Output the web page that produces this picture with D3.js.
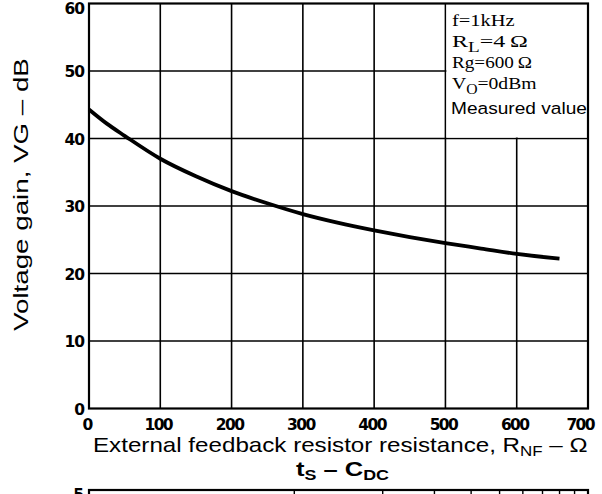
<!DOCTYPE html>
<html>
<head>
<meta charset="utf-8">
<script src="https://cdn.jsdelivr.net/npm/d3@7"></script>
<style>
  body { margin: 0; background: #fff; }
  text { fill: #000; }
</style>
</head>
<body>
<svg id="vis" width="602" height="494"></svg>
<script>
// values
const rnf = [0, 25, 50, 100, 150, 200, 250, 300, 350, 400, 450, 500, 550, 600, 660]
const gain = [44.3, 42.2, 40.4, 37.0, 34.4, 32.2, 30.4, 28.8, 27.5, 26.4, 25.4, 24.5, 23.7, 22.9, 22.2]

const xTicks = [0, 100, 200, 300, 400, 500, 600, 700]
const yTicks = [0, 10, 20, 30, 40, 50, 60]
const conditions = [
  {main: 'f', sub: '', rest: '=1kHz'},
  {main: 'R', sub: 'L', rest: '=4\u2009\u03A9'},
  {main: 'Rg', sub: '', rest: '=600\u2009\u03A9'},
  {main: 'V', sub: 'O', rest: '=0dBm'}
]
// next chart (t_S - C_DC), only its top edge shows
const cdcGrid = [1, 2, 3, 4, 5, 6, 7, 8, 9]
const cdcYTop = 5

const svg = d3.select('#vis')

const x = d3.scaleLinear([0, 700], [89, 588])
const y = d3.scaleLinear([0, 60], [408.5, 3.5])

const tickFont = "'DejaVu Sans', 'Liberation Sans', sans-serif"

// stretch a text element horizontally so it spans x0..x1
function fit(sel, x0, x1) {
  let node = sel.node()
  let b = node.getBBox()
  let sx = (x1 - x0) / b.width
  sel.attr('transform', `translate(${x0},0) scale(${sx},1) translate(${-b.x},0)`)
}

// grid
let grid = svg.append('g').attr('stroke', '#000').attr('stroke-width', 1.6)
grid.selectAll('.vgrid')
  .data(xTicks.slice(1, -1)).enter()
  .append('line')
    .attr('x1', d => x(d)).attr('x2', d => x(d))
    .attr('y1', y(60)).attr('y2', y(0))
grid.selectAll('.hgrid')
  .data(yTicks.slice(1, -1)).enter()
  .append('line')
    .attr('x1', x(0)).attr('x2', x(700))
    .attr('y1', d => y(d)).attr('y2', d => y(d))

// conditions box covers the grid in the upper right
svg.append('rect')
  .attr('x', x(500) + 1).attr('y', y(60))
  .attr('width', x(700) - x(500) - 1).attr('height', y(40) - y(60) - 1)
  .attr('fill', '#fff')
// stubs of the 600 line left visible
grid.append('line')
  .attr('x1', x(600)).attr('x2', x(600))
  .attr('y1', y(60)).attr('y2', y(60) + 6)
grid.append('line')
  .attr('x1', x(600)).attr('x2', x(600))
  .attr('y1', y(40) - 20).attr('y2', y(40))
grid.append('line')
  .attr('x1', x(700) - 4).attr('x2', x(700))
  .attr('y1', y(50)).attr('y2', y(50))

// frame
svg.append('rect')
  .attr('x', x(0)).attr('y', y(60))
  .attr('width', x(700) - x(0)).attr('height', y(0) - y(60))
  .attr('fill', 'none').attr('stroke', '#000').attr('stroke-width', 2.2)

// curve
let line = d3.line()
  .x((d, i) => x(rnf[i]))
  .y(d => y(d))
  .curve(d3.curveMonotoneX)

svg.append('path')
  .datum(gain)
  .attr('d', line)
  .attr('fill', 'none')
  .attr('stroke', '#000')
  .attr('stroke-width', 3.8)
  .attr('stroke-linecap', 'butt')

// tick labels
svg.selectAll('.xlab')
  .data(xTicks).enter()
  .append('text')
    .attr('x', d => d === 700 ? x(d) + 6 : x(d) - 2)
    .attr('y', 430)
    .attr('text-anchor', d => d === 700 ? 'end' : 'middle')
    .attr('font-family', tickFont)
    .attr('font-weight', 'bold')
    .attr('font-size', 15.5)
    .attr('letter-spacing', -1.6)
    .text(d => d)

svg.selectAll('.ylab')
  .data(yTicks).enter()
  .append('text')
    .attr('x', 84)
    .attr('y', d => y(d) + (d === 60 ? 10 : 6))
    .attr('text-anchor', 'end')
    .attr('font-family', tickFont)
    .attr('font-weight', 'bold')
    .attr('font-size', 15.5)
    .attr('letter-spacing', -1)
    .text(d => d)

// conditions text
let cond = svg.append('g')
  .attr('font-family', "'Liberation Serif', 'Times New Roman', serif")
  .attr('font-size', 17.5)
let baselines = [26, 47, 68, 89]
let ends = [515, 528, 532, 537]
conditions.forEach((c, i) => {
  let t = cond.append('text').attr('y', baselines[i])
  t.append('tspan').text(c.main)
  if (c.sub) {
    t.append('tspan').attr('font-size', 14).attr('dy', 5).text(c.sub)
    t.append('tspan').attr('dy', -5).text(c.rest)
  } else {
    t.append('tspan').text(c.rest)
  }
  fit(t, 452, ends[i])
})

let measured = svg.append('text')
  .attr('y', 114)
  .attr('font-family', "'Liberation Sans', Arial, sans-serif")
  .attr('font-size', 17)
  .text('Measured value')
fit(measured, 451, 587)

// axis titles
let xTitle = svg.append('text')
  .attr('y', 452)
  .attr('font-family', "'Liberation Sans', Arial, sans-serif")
  .attr('font-size', 20)
xTitle.append('tspan').text('External feedback resistor resistance, R')
xTitle.append('tspan').attr('font-size', 14).attr('dy', 4).text('NF')
xTitle.append('tspan').attr('dy', -4).text(' \u2013 \u03A9')
fit(xTitle, 93, 588)

let yTitleG = svg.append('g').attr('transform', 'translate(28,0)')
let yTitle = yTitleG.append('g').attr('transform', 'rotate(-90)')
  .append('text')
  .attr('y', 0)
  .attr('font-family', "'Liberation Sans', Arial, sans-serif")
  .attr('font-size', 20)
  .text('Voltage gain, VG \u2013 dB')
fit(yTitle, -331, -58)

// title of the next chart
let next = svg.append('text')
  .attr('y', 476)
  .attr('font-family', "'Liberation Sans', Arial, sans-serif")
  .attr('font-weight', 'bold')
  .attr('font-size', 20)
next.append('tspan').text('t')
next.append('tspan').attr('font-size', 14).attr('dy', 4).text('S')
next.append('tspan').attr('dy', -4).text(' \u2013 C')
next.append('tspan').attr('font-size', 14).attr('dy', 4).text('DC')
fit(next, 296, 389)

// top edge of the next chart
const x2 = d3.scaleLog([0.2, 10], [89, 588])
svg.append('rect')
  .attr('x', x2(0.2)).attr('y', 490)
  .attr('width', x2(10) - x2(0.2)).attr('height', 80)
  .attr('fill', 'none').attr('stroke', '#000').attr('stroke-width', 2.2)
svg.selectAll('.cdc')
  .data(cdcGrid).enter()
  .append('line')
    .attr('x1', d => x2(d)).attr('x2', d => x2(d))
    .attr('y1', 490).attr('y2', 494)
    .attr('stroke', '#000').attr('stroke-width', 1.4)
svg.append('text')
  .attr('x', 84).attr('y', 500)
  .attr('text-anchor', 'end')
  .attr('font-family', tickFont)
  .attr('font-weight', 'bold')
  .attr('font-size', 15.5)
  .text(cdcYTop)
</script>
</body>
</html>
